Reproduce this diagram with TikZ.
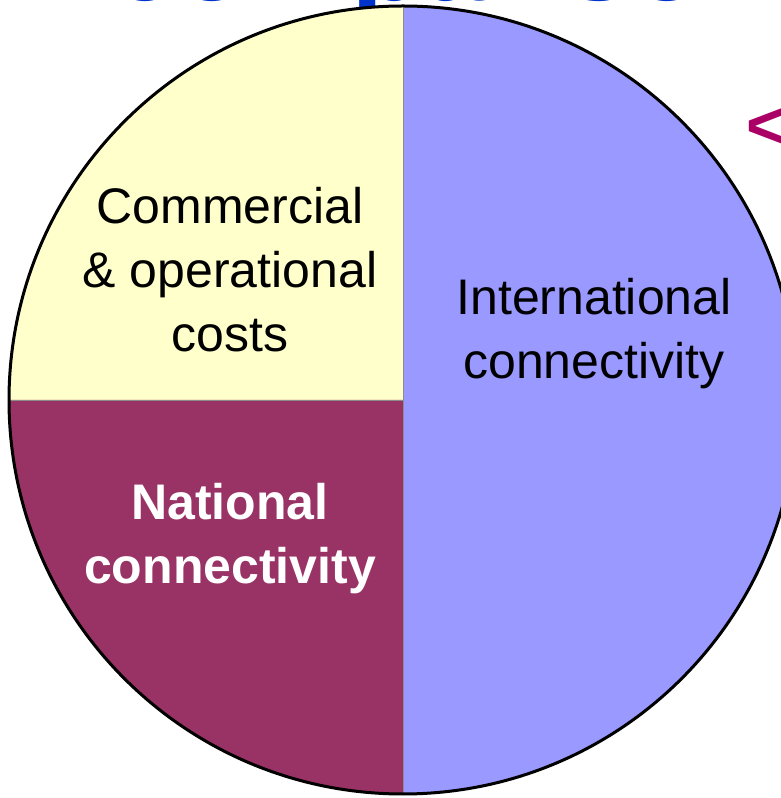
\documentclass[tikz,border=0pt]{standalone}
\usepackage{fontspec}
\setmainfont{Liberation Sans}
\definecolor{pieblue}{HTML}{9999FF}
\definecolor{pieyellow}{HTML}{FFFFCC}
\definecolor{piemaroon}{HTML}{993366}
\definecolor{titleblue}{HTML}{0033CC}
\definecolor{subpink}{RGB}{170,0,102}
\tikzset{
  pielabel/.style={inner sep=0pt, align=center, font=\fontsize{50}{64}\selectfont},
  divline/.style={black!45, line width=0.7pt}
}
\begin{document}
\begin{tikzpicture}[x=1pt,y=1pt]
\useasboundingbox (0,0) rectangle (781,798);
\clip (0,0) rectangle (781,798);
% cut-off title and subtitle behind the pie
\node[anchor=base west, inner sep=0pt, text=titleblue, font=\fontsize{117}{130}\selectfont\bfseries] (title) at (111,797.5) {comparison};
\node[anchor=base west, inner sep=0pt, text=subpink, font=\fontsize{67}{80}\selectfont\bfseries] (sub) at (746,649) {<};
% pie
\coordinate (c) at (403,398);
\fill[pieblue] (c) -- ++(90:394) arc[start angle=90, end angle=-90, radius=394] -- cycle;
\fill[pieyellow] (c) -- ++(90:394) arc[start angle=90, end angle=180, radius=394] -- cycle;
\fill[piemaroon] (c) -- ++(180:394) arc[start angle=180, end angle=270, radius=394] -- cycle;
\coordinate (top) at (403,792);
\coordinate (bot) at (403,4);
\coordinate (lft) at (9,398);
\draw[divline] (top) -- (bot);
\draw[divline] (lft) -- (c);
\draw[black, line width=3pt] (c) circle[radius=394];
% labels
\node[pielabel] (comm) at (230,528) {Commercial\\\& operational\\costs};
\node[pielabel] (intl) at (594,464) {International\\connectivity};
\node[pielabel, text=white, font=\fontsize{50}{64}\selectfont\bfseries] (natl) at (230,259) {National\\connectivity};
\end{tikzpicture}
\end{document}
